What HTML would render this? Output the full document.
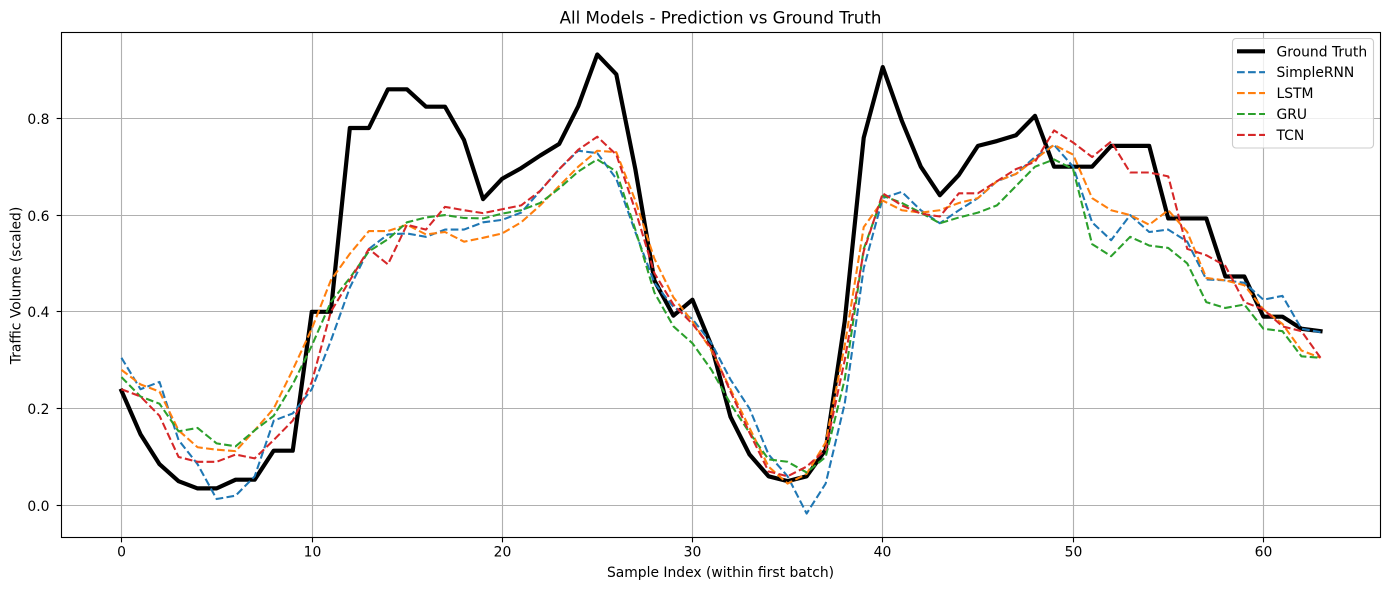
<!DOCTYPE html>
<html lang="en">
<head>
<meta charset="utf-8">
<title>All Models - Prediction vs Ground Truth</title>
<style>
  html, body { margin: 0; padding: 0; background: #fff; }
  #chart { display: block; width: 1389px; height: 590px; }
  text { font-family: "DejaVu Sans", "Liberation Sans", sans-serif; fill: #000; }
</style>
</head>
<body>
<svg id="chart" xmlns="http://www.w3.org/2000/svg" width="1389" height="590" viewBox="0 0 1389 590">
  <rect x="0" y="0" width="1389" height="590" fill="#fff"/>
  <g id="grid"></g>
  <g id="series"></g>
  <g id="frame"></g>
  <g id="xticks"></g>
  <g id="yticks"></g>
  <text x="720.5" y="23.5" text-anchor="middle" font-size="16.67">All Models - Prediction vs Ground Truth</text>
  <text x="720.5" y="577" text-anchor="middle" font-size="13.89">Sample Index (within first batch)</text>
  <text x="0" y="0" transform="translate(20.5 285.5) rotate(-90)" text-anchor="middle" font-size="13.89">Traffic Volume (scaled)</text>
  <g id="legend">
    <rect x="1232.5" y="38.5" width="141" height="109.5" rx="3.5" ry="3.5" fill="#fff" fill-opacity="0.8" stroke="#cccccc" stroke-width="1.11"/>
  </g>
</svg>
<script>
const xTickValues = [0, 10, 20, 30, 40, 50, 60];
const yTickValues = [0.0, 0.2, 0.4, 0.6, 0.8];
const seriesNames = ["Ground Truth", "SimpleRNN", "LSTM", "GRU", "TCN"];

const groundTruth = [0.237,0.147,0.085,0.05,0.035,0.035,0.053,0.053,0.113,0.113,0.40,0.40,0.78,0.78,0.86,0.86,0.824,0.824,0.755,0.633,0.675,0.697,0.723,0.747,0.825,0.932,0.891,0.695,0.465,0.392,0.425,0.33,0.183,0.105,0.06,0.05,0.06,0.115,0.38,0.76,0.906,0.795,0.70,0.641,0.683,0.743,0.753,0.765,0.805,0.70,0.70,0.70,0.743,0.743,0.743,0.593,0.593,0.593,0.473,0.473,0.39,0.39,0.365,0.36];
const simpleRnn = [0.305,0.24,0.255,0.135,0.085,0.013,0.02,0.06,0.175,0.19,0.24,0.34,0.45,0.53,0.56,0.562,0.555,0.57,0.57,0.585,0.59,0.605,0.65,0.695,0.733,0.728,0.675,0.565,0.46,0.41,0.385,0.335,0.26,0.2,0.105,0.06,-0.017,0.045,0.21,0.49,0.635,0.648,0.61,0.583,0.61,0.635,0.67,0.685,0.72,0.745,0.70,0.585,0.548,0.6,0.565,0.57,0.545,0.467,0.465,0.46,0.425,0.433,0.365,0.358];
const lstm = [0.28,0.25,0.235,0.155,0.12,0.115,0.112,0.155,0.20,0.28,0.365,0.465,0.52,0.567,0.567,0.58,0.56,0.565,0.545,0.553,0.562,0.585,0.62,0.66,0.70,0.733,0.73,0.63,0.51,0.43,0.38,0.32,0.24,0.16,0.08,0.045,0.065,0.13,0.33,0.575,0.63,0.61,0.605,0.61,0.625,0.635,0.67,0.685,0.715,0.745,0.725,0.635,0.61,0.60,0.58,0.61,0.565,0.47,0.465,0.455,0.405,0.375,0.32,0.305];
const gru = [0.265,0.225,0.21,0.153,0.16,0.128,0.122,0.155,0.185,0.25,0.33,0.42,0.47,0.525,0.55,0.585,0.595,0.60,0.594,0.593,0.603,0.61,0.625,0.655,0.69,0.715,0.69,0.57,0.44,0.37,0.335,0.28,0.21,0.15,0.095,0.09,0.068,0.10,0.26,0.53,0.64,0.625,0.605,0.583,0.595,0.605,0.62,0.66,0.70,0.715,0.695,0.54,0.515,0.555,0.537,0.532,0.50,0.42,0.408,0.415,0.365,0.36,0.308,0.305];
const tcn = [0.24,0.225,0.185,0.10,0.09,0.09,0.105,0.097,0.135,0.175,0.255,0.40,0.465,0.53,0.498,0.58,0.57,0.617,0.61,0.604,0.612,0.62,0.65,0.695,0.735,0.762,0.725,0.61,0.48,0.415,0.375,0.325,0.235,0.15,0.07,0.06,0.08,0.115,0.30,0.525,0.645,0.62,0.603,0.597,0.645,0.645,0.67,0.695,0.71,0.775,0.75,0.72,0.752,0.688,0.688,0.68,0.53,0.517,0.495,0.42,0.405,0.37,0.36,0.305];

const SVG_NS = "http://www.w3.org/2000/svg";
const plot = { left: 61.5, right: 1380.45, top: 32.3, bottom: 537.3 };
const frameBox = { left: 61.5, right: 1380.5, top: 32.5, bottom: 537.5 };
const xDomain = [-3.15, 66.15];
const yDomain = [-0.0661, 0.9778];

function xScale(v) {
  return plot.left + (v - xDomain[0]) / (xDomain[1] - xDomain[0]) * (plot.right - plot.left);
}
function yScale(v) {
  return plot.bottom - (v - yDomain[0]) / (yDomain[1] - yDomain[0]) * (plot.bottom - plot.top);
}
function snapX(p) {
  return Math.floor(p + 0.23) + 0.5;
}
function snapY(p) {
  return Math.round(p - 0.5) + 0.5;
}
function make(tag, attrs) {
  const el = document.createElementNS(SVG_NS, tag);
  for (const k in attrs) el.setAttribute(k, attrs[k]);
  return el;
}

const gridGroup = document.getElementById("grid");
const frameGroup = document.getElementById("frame");
const xTickGroup = document.getElementById("xticks");
const yTickGroup = document.getElementById("yticks");
const seriesGroup = document.getElementById("series");
const legendGroup = document.getElementById("legend");

xTickValues.forEach(function (t) {
  const px = snapX(xScale(t));
  const gl = make("line", { x1: px, x2: px, y1: frameBox.top, y2: frameBox.bottom, stroke: "#b0b0b0", "stroke-width": 1.11 });
  
  
  gridGroup.appendChild(gl);
  const tick = make("line", { x1: px, x2: px, y1: frameBox.bottom, y2: frameBox.bottom + 4.86, stroke: "#000", "stroke-width": 1.11 });
  
  
  xTickGroup.appendChild(tick);
  const label = make("text", { x: px, y: 556.5, "text-anchor": "middle", "font-size": 13.89 });
  
  
  label.textContent = String(t);
  xTickGroup.appendChild(label);
});

yTickValues.forEach(function (t) {
  const py = snapY(yScale(t));
  const gl = make("line", { x1: frameBox.left, x2: frameBox.right, y1: py, y2: py, stroke: "#b0b0b0", "stroke-width": 1.11 });
  
  
  gridGroup.appendChild(gl);
  const tick = make("line", { x1: frameBox.left - 4.86, x2: frameBox.left, y1: py, y2: py, stroke: "#000", "stroke-width": 1.11 });
  
  
  yTickGroup.appendChild(tick);
  const label = make("text", { x: 49.5, y: py + 5.3, "text-anchor": "end", "font-size": 13.89 });
  
  
  label.textContent = t.toFixed(1);
  yTickGroup.appendChild(label);
});

function drawSeries(values, color, width, dash, cap, name) {
  const pts = values.map(function (v, i) {
    return xScale(i).toFixed(2) + "," + yScale(v).toFixed(2);
  }).join(" ");
  const line = make("polyline", { points: pts, fill: "none", stroke: color, "stroke-width": width, "stroke-linejoin": "round", "stroke-linecap": cap });
  if (dash) line.setAttribute("stroke-dasharray", dash);
  
  
  seriesGroup.appendChild(line);
}
drawSeries(groundTruth, "#000000", 4.17, null, "square", "ground-truth-line");
drawSeries(simpleRnn, "#1f77b4", 2.08, "7.71 3.33", "butt", "simplernn-line");
drawSeries(lstm, "#ff7f0e", 2.08, "7.71 3.33", "butt", "lstm-line");
drawSeries(gru, "#2ca02c", 2.08, "7.71 3.33", "butt", "gru-line");
drawSeries(tcn, "#d62728", 2.08, "7.71 3.33", "butt", "tcn-line");

const frameRect = make("rect", { x: frameBox.left, y: frameBox.top, width: frameBox.right - frameBox.left, height: frameBox.bottom - frameBox.top, fill: "none", stroke: "#000", "stroke-width": 1.11 });


frameGroup.appendChild(frameRect);

const legendColors = ["#000000", "#1f77b4", "#ff7f0e", "#2ca02c", "#d62728"];
seriesNames.forEach(function (name, i) {
  const rowY = 51.3 + i * 20.9;
  const handle = make("line", { x1: 1237, x2: 1265, y1: rowY, y2: rowY, stroke: legendColors[i], "stroke-width": i === 0 ? 4.17 : 2.08 });
  if (i > 0) handle.setAttribute("stroke-dasharray", "7.71 3.33");
  
  
  legendGroup.appendChild(handle);
  const label = make("text", { x: 1276.5, y: rowY + 5, "font-size": 13.89 });
  
  
  label.textContent = name;
  legendGroup.appendChild(label);
});
</script>
</body>
</html>
